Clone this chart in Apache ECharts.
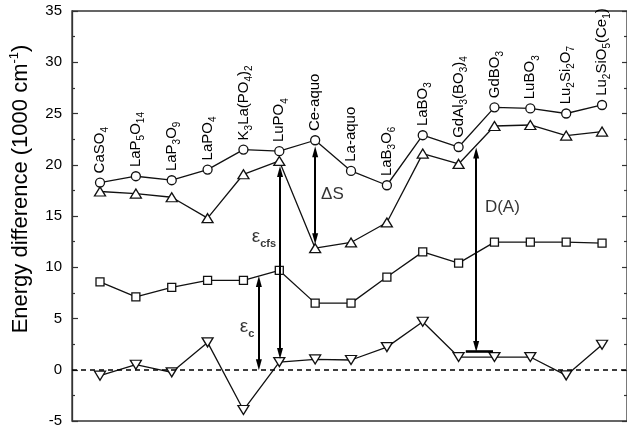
<!DOCTYPE html>
<html><head><meta charset="utf-8">
<script src="https://cdn.jsdelivr.net/npm/echarts@6/dist/echarts.min.js"></script>
<style>html,body{margin:0;padding:0;background:#fff}#c{width:627px;height:432px}</style>
</head><body><div id="c"></div>
<script>
// ---- data ----
const categories = ['CaSO4','LaP5O14','LaP3O9','LaPO4','K3La(PO4)2','LuPO4','Ce-aquo','La-aquo','LaB3O6','LaBO3','GdAl3(BO3)4','GdBO3','LuBO3','Lu2Si2O7','Lu2SiO5(Ce1)'];
const categoryLabels = ['CaSO{s|4}','LaP{s|5}O{s|14}','LaP{s|3}O{s|9}','LaPO{s|4}','K{s|3}La(PO{s|4}){s|2}','LuPO{s|4}','Ce-aquo','La-aquo','LaB{s|3}O{s|6}','LaBO{s|3}','GdAl{s|3}(BO{s|3}){s|4}','GdBO{s|3}','LuBO{s|3}','Lu{s|2}Si{s|2}O{s|7}','Lu{s|2}SiO{s|5}(Ce{s|1})'];
const circleVals   = [18.26,18.88,18.49,19.53,21.48,21.32,22.39,19.40,18.00,22.88,21.73,25.60,25.50,25.00,25.83];
const triUpVals    = [17.39,17.19,16.83,14.79,19.07,20.37,11.86,12.42,14.37,21.09,20.08,23.78,23.88,22.85,23.24];
const squareVals   = [8.58,7.11,8.03,8.71,8.71,9.69,6.50,6.50,9.04,11.50,10.40,12.45,12.45,12.45,12.35];
const triDownVals  = [-0.58,0.49,-0.25,2.67,-3.93,0.75,1.01,0.95,2.21,4.68,1.24,1.24,1.24,-0.55,2.44];
const yTicks = [-5,0,5,10,15,20,25,30,35];
// annotation arrows (data coordinates: x, top end, bottom end)
const arrowX    = [5.43, 6.02, 7.0, 11.49];
const arrowTop  = [8.62, 19.34, 21.26, 21.14];
const arrowBot  = [0.49, 1.58, 12.79, 2.27];
const barX = [11.2, 11.96];
const barY = 1.79;
const annotText = ['{e|ε}{sc|c}','{e|ε}{sc|cfs}','ΔS','D(A)'];
const annotX = [5.1, 5.57, 7.48, 12.22];
const annotY = [4.16, 12.93, 17.12, 15.86];

const FONT = 'Liberation Sans';
const pts = vals => vals.map((v,i)=>[i+1, v]);

const lineBase = {
  type:'line', symbolSize:9, showSymbol:true,
  lineStyle:{color:'#111', width:1.3},
  itemStyle:{color:'#fff', borderColor:'#111', borderWidth:1.3},
  emphasis:{disabled:true}, animation:false, z:3
};

const chart = echarts.init(document.getElementById('c'), null, {renderer:'canvas'});
chart.setOption({
  animation:false,
  backgroundColor:'#fff',
  grid:{left:72, top:11, right:0, bottom:11, show:true, borderColor:'#333', borderWidth:1.3, backgroundColor:'transparent'},
  xAxis:{type:'value', min:0.219, max:15.696, show:false},
  yAxis:[{
    type:'value', min:yTicks[0], max:yTicks[yTicks.length-1], interval:5, position:'left',
    axisLine:{show:true, lineStyle:{color:'#333', width:1.3}},
    axisTick:{show:true, inside:true, length:6, lineStyle:{color:'#333', width:1.2}},
    minorTick:{show:true, splitNumber:2, length:3, lineStyle:{color:'#333', width:1.2}},
    axisLabel:{fontSize:15, color:'#000', fontFamily:FONT, margin:10},
    splitLine:{show:false}
  },{
    type:'value', min:yTicks[0], max:yTicks[yTicks.length-1], interval:5, position:'right',
    axisLine:{show:false},
    axisTick:{show:true, inside:true, length:5, lineStyle:{color:'#333', width:1.2}},
    minorTick:{show:true, splitNumber:2, length:3, lineStyle:{color:'#333', width:1.2}},
    axisLabel:{show:false}, splitLine:{show:false}
  }],
  graphic:[{
    type:'text', x:21, y:189, rotation:Math.PI/2,
    style:{
      text:'Energy difference (1000 cm{sup|-1})',
      fontSize:22, fontFamily:FONT, fill:'#000', align:'center', verticalAlign:'middle',
      lineHeight:26,
      rich:{sup:{fontSize:13, lineHeight:13, verticalAlign:'top', fill:'#000', fontFamily:FONT}}
    }
  }],
  series:[
    Object.assign({}, lineBase, {name:'circle', symbol:'circle', symbolSize:9, data:pts(circleVals),
      label:{show:true, position:'top', distance:4, rotate:90, align:'left', verticalAlign:'middle',
        fontSize:15, fontFamily:FONT, color:'#000', lineHeight:21,
        formatter:p=>categoryLabels[p.dataIndex],
        rich:{s:{fontSize:10, lineHeight:10, verticalAlign:'bottom', fontFamily:FONT, color:'#000'}}}
    }),
    Object.assign({}, lineBase, {name:'triUp', symbol:'triangle', symbolSize:[11,9], data:pts(triUpVals)}),
    Object.assign({}, lineBase, {name:'square', symbol:'rect', symbolSize:8, data:pts(squareVals)}),
    Object.assign({}, lineBase, {name:'triDown', symbol:'triangle', symbolRotate:180, symbolSize:[11,9], data:pts(triDownVals),
      markLine:{silent:true, symbol:['none','none'], label:{show:false},
        lineStyle:{color:'#000', width:1.5, type:[5,4]},
        data:[{yAxis:0}]}
    }),
    {
      type:'scatter', name:'annot', symbolSize:1, itemStyle:{color:'transparent'}, z:10,
      data:annotX.map((x,i)=>[x, annotY[i]]),
      label:{show:true, position:'inside', fontSize:17, fontFamily:FONT, color:'#000',
        formatter:p=>annotText[p.dataIndex],
        rich:{e:{fontSize:19, lineHeight:24, fontFamily:FONT, color:'#000'},
              sc:{fontSize:11, lineHeight:11, fontWeight:'bold', verticalAlign:'bottom', fontFamily:FONT, color:'#000'}}},
      emphasis:{disabled:true},
      markLine:{silent:true, symbol:['triangle','triangle'], symbolSize:[6,11], label:{show:false},
        lineStyle:{color:'#000', width:2, type:'solid'},
        data: arrowX.map((x,i)=>[{coord:[x, arrowTop[i]]},{coord:[x, arrowBot[i]]}]).concat([
          [{coord:[barX[0], barY], symbol:'none'},{coord:[barX[1], barY], symbol:'none', lineStyle:{width:2.6}}]
        ])
      }
    }
  ]
});
</script>
</body></html>
